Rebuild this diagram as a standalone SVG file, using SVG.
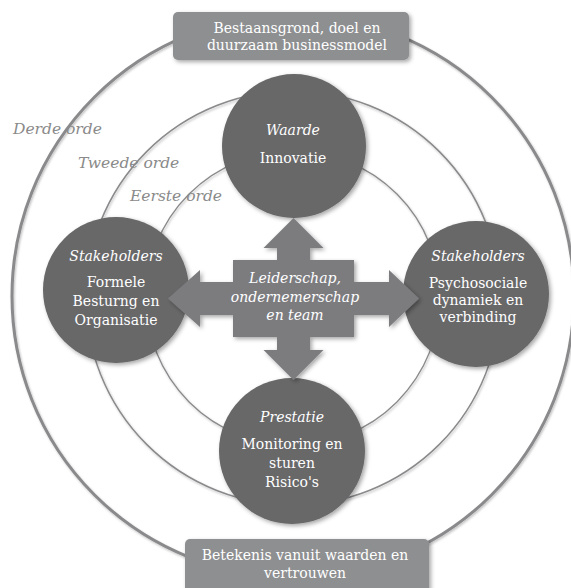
<svg xmlns="http://www.w3.org/2000/svg" width="571" height="588" viewBox="0 0 571 588">
<defs>
  <filter id="sh" x="-20%" y="-20%" width="140%" height="140%">
    <feDropShadow dx="2" dy="2" stdDeviation="2" flood-color="#000" flood-opacity="0.35"/>
  </filter>
  <filter id="rsh" x="-10%" y="-10%" width="120%" height="120%">
    <feDropShadow dx="1" dy="1.5" stdDeviation="1" flood-color="#000" flood-opacity="0.25"/>
  </filter>
  <style>
    .ring { fill: none; stroke: #8a8a8c; }
    .node { fill: #676769; filter: url(#sh); }
    .banner { fill: #8e8f91; filter: url(#sh); }
    .cross { fill: #7b7c7f; filter: url(#sh); }
    text { font-family: "DejaVu Serif", "Liberation Serif", serif; font-size: 14px; fill: #ffffff; text-anchor: middle; }
    .it { font-style: italic; }
    .lbl { font-style: italic; fill: #8a8a8a; font-size: 15.5px; text-anchor: start; }
  </style>
</defs>
<rect width="571" height="588" fill="#ffffff"/>

<g id="rings" filter="url(#rsh)">
  <circle class="ring" cx="293" cy="296" r="281" stroke-width="3"/>
  <circle class="ring" cx="293" cy="298" r="207" stroke-width="1.5"/>
  <circle class="ring" cx="293" cy="298" r="147" stroke-width="1.3"/>
</g>

<g id="ring-labels">
  <text class="lbl" x="13" y="134">Derde orde</text>
  <text class="lbl" x="78" y="168">Tweede orde</text>
  <text class="lbl" x="130" y="201">Eerste orde</text>
</g>

<g id="banner-top">
  <rect class="banner" x="173" y="12" width="236" height="48" rx="5"/>
  <text x="297" y="33">Bestaansgrond, doel en</text>
  <text x="297" y="50">duurzaam businessmodel</text>
</g>

<g id="banner-bottom">
  <rect class="banner" x="185" y="539" width="244" height="60" rx="5"/>
  <text x="305" y="560">Betekenis vanuit waarden en</text>
  <text x="305" y="578">vertrouwen</text>
</g>

<g id="node-waarde">
  <circle class="node" cx="294" cy="146" r="72"/>
  <text class="it" x="293" y="135">Waarde</text>
  <text x="293" y="163">Innovatie</text>
</g>

<g id="node-formeel">
  <circle class="node" cx="116" cy="290" r="73"/>
  <text class="it" x="116" y="261">Stakeholders</text>
  <text x="116" y="287">Formele</text>
  <text x="116" y="306">Besturng en</text>
  <text x="116" y="325">Organisatie</text>
</g>

<g id="node-psycho">
  <circle class="node" cx="476" cy="294" r="73"/>
  <text class="it" x="478" y="261">Stakeholders</text>
  <text x="478" y="288">Psychosociale</text>
  <text x="478" y="305">dynamiek en</text>
  <text x="478" y="322">verbinding</text>
</g>

<g id="node-prestatie">
  <circle class="node" cx="292" cy="451" r="73"/>
  <text class="it" x="292" y="422">Prestatie</text>
  <text x="292" y="449">Monitoring en</text>
  <text x="292" y="468">sturen</text>
  <text x="292" y="487">Risico's</text>
</g>

<g id="connectors">
  <polygon class="cross" points="293.5,218 323.5,248 310,248 310,260 354,260 354,282 389,282 389,270 419,298.5 389,327 389,315 354,315 354,337 310,337 310,350 323.5,350 293.5,380 263.5,350 277,350 277,337 233,337 233,315 200,315 200,327 168,298.5 200,270 200,282 233,282 233,260 277,260 277,248 263.5,248"/>
</g>

<g id="node-leiderschap">
  <text class="it" x="295" y="283">Leiderschap,</text>
  <text class="it" x="295" y="302">ondernemerschap</text>
  <text class="it" x="295" y="320">en team</text>
</g>
</svg>
